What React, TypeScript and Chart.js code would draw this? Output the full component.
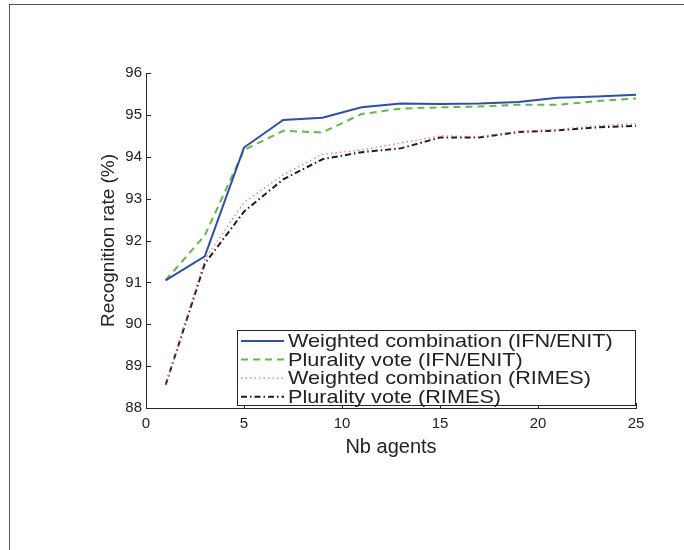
import React, { useEffect, useRef } from "react";
import { Chart, registerables } from "chart.js";

Chart.register(...registerables);

const agents = [1, 3, 5, 7, 9, 11, 13, 15, 17, 19, 21, 23, 25];
const weightedIfn = [91.05, 91.62, 94.22, 94.88, 94.93, 95.18, 95.27, 95.26, 95.27, 95.31, 95.41, 95.44, 95.48];
const pluralityIfn = [91.05, 92.12, 94.16, 94.62, 94.58, 95.02, 95.15, 95.18, 95.2, 95.24, 95.24, 95.33, 95.39];
const weightedRimes = [88.55, 91.55, 92.91, 93.57, 94.06, 94.16, 94.33, 94.5, 94.48, 94.61, 94.65, 94.74, 94.79];
const pluralityRimes = [88.55, 91.45, 92.69, 93.46, 93.94, 94.11, 94.2, 94.46, 94.46, 94.59, 94.63, 94.7, 94.74];

const seriesLabels = [
  "Weighted combination (IFN/ENIT)",
  "Plurality vote (IFN/ENIT)",
  "Weighted combination (RIMES)",
  "Plurality vote (RIMES)",
];
const xTicks = [0, 5, 10, 15, 20, 25];
const yTicks = [88, 89, 90, 91, 92, 93, 94, 95, 96];
const xTitle = "Nb agents";
const yTitle = "Recognition rate (%)";

const FONT = "'Liberation Sans', Arial, Helvetica, sans-serif";
const AXIS_COLOR = "#262626";

const inwardTicks = {
  id: "inwardTicks",
  afterDraw(chart: any) {
    const { ctx, chartArea } = chart;
    const xs = chart.scales.x;
    const ys = chart.scales.y;
    ctx.save();
    ctx.strokeStyle = AXIS_COLOR;
    ctx.lineWidth = 1;
    ctx.beginPath();
    xTicks.forEach((v) => {
      const px = Math.round(xs.getPixelForValue(v)) + 0.5;
      ctx.moveTo(px, chartArea.bottom);
      ctx.lineTo(px, chartArea.bottom - 5);
    });
    yTicks.forEach((v) => {
      const py = Math.round(ys.getPixelForValue(v)) + 0.5;
      ctx.moveTo(chartArea.left, py);
      ctx.lineTo(chartArea.left + 5, py);
    });
    ctx.stroke();
    ctx.restore();
  },
};

const customLegend = {
  id: "customLegend",
  afterDraw(chart: any) {
    const { ctx } = chart;
    const bx = 237.5, by = 330.5, bw = 398, bh = 75;
    ctx.save();
    ctx.fillStyle = "#ffffff";
    ctx.fillRect(bx, by, bw, bh);
    ctx.strokeStyle = AXIS_COLOR;
    ctx.lineWidth = 1;
    ctx.setLineDash([]);
    ctx.strokeRect(bx, by, bw, bh);
    ctx.font = `19px ${FONT}`;
    ctx.textBaseline = "middle";
    chart.data.datasets.forEach((ds: any, i: number) => {
      const cy = 341 + i * 18.6;
      ctx.save();
      ctx.strokeStyle = ds.borderColor;
      ctx.lineWidth = ds.borderWidth;
      ctx.setLineDash(ds.borderDash || []);
      ctx.beginPath();
      ctx.moveTo(241, cy);
      ctx.lineTo(284, cy);
      ctx.stroke();
      ctx.restore();
      ctx.save();
      ctx.fillStyle = "#222";
      ctx.translate(288, cy + 1);
      ctx.scale(1.14, 1);
      ctx.fillText(ds.label, 0, 0);
      ctx.restore();
    });
    ctx.restore();
  },
};

export default function App() {
  const canvasRef = useRef<HTMLCanvasElement | null>(null);

  useEffect(() => {
    if (!canvasRef.current) return;
    const mk = (arr: number[]) => agents.map((x, i) => ({ x, y: arr[i] }));
    const chart = new Chart(canvasRef.current, {
      type: "line",
      data: {
        datasets: [
          { label: seriesLabels[0], data: mk(weightedIfn), borderColor: "#2f4ea6", borderWidth: 2, borderDash: [], pointRadius: 0, tension: 0 },
          { label: seriesLabels[1], data: mk(pluralityIfn), borderColor: "#62b944", borderWidth: 2, borderDash: [7, 5], pointRadius: 0, tension: 0 },
          { label: seriesLabels[2], data: mk(weightedRimes), borderColor: "#f26a6a", borderWidth: 1.2, borderDash: [1.5, 3], pointRadius: 0, tension: 0 },
          { label: seriesLabels[3], data: mk(pluralityRimes), borderColor: "#1e1e1e", borderWidth: 2, borderDash: [6, 3, 1.5, 3], pointRadius: 0, tension: 0 },
        ],
      },
      options: {
        animation: false,
        responsive: false,
        events: [],
        layout: { padding: { left: 0, right: 48, top: 73, bottom: 0 } },
        plugins: { legend: { display: false }, tooltip: { enabled: false } },
        scales: {
          x: {
            type: "linear",
            min: 0,
            max: 25,
            afterFit: (s: any) => { s.height = 142; },
            afterBuildTicks: (s: any) => { s.ticks = xTicks.map((v) => ({ value: v })); },
            ticks: { color: "#222", font: { family: FONT, size: 15 }, padding: 7, maxRotation: 0 },
            grid: { display: true, drawOnChartArea: false, drawTicks: false },
            border: { display: true, color: AXIS_COLOR, width: 1 },
            title: { display: true, text: xTitle, color: "#222", font: { family: FONT, size: 20 }, padding: { top: 0, bottom: 91 } },
          },
          y: {
            type: "linear",
            min: 88,
            max: 96,
            afterFit: (s: any) => { s.width = 146; },
            afterBuildTicks: (s: any) => { s.ticks = yTicks.map((v) => ({ value: v })); },
            ticks: { color: "#222", font: { family: FONT, size: 15 }, padding: 4 },
            grid: { display: true, drawOnChartArea: false, drawTicks: false },
            border: { display: true, color: AXIS_COLOR, width: 1 },
            title: { display: true, text: yTitle, color: "#222", font: { family: FONT, size: 19 }, padding: { top: 97, bottom: 0 } },
          },
        },
      },
      plugins: [inwardTicks, customLegend],
    });
    return () => chart.destroy();
  }, []);

  return (
    <div>
      <div
        style={{
          position: "fixed",
          left: 9,
          top: 4,
          width: 675,
          height: 546,
          borderTop: "1px solid #555",
          borderLeft: "1px solid #555",
          boxSizing: "border-box",
          pointerEvents: "none",
        }}
      />
      <canvas
        ref={canvasRef}
        width={684}
        height={550}
        style={{ position: "fixed", left: 0, top: 0, width: 684, height: 550 }}
      />
    </div>
  );
}
